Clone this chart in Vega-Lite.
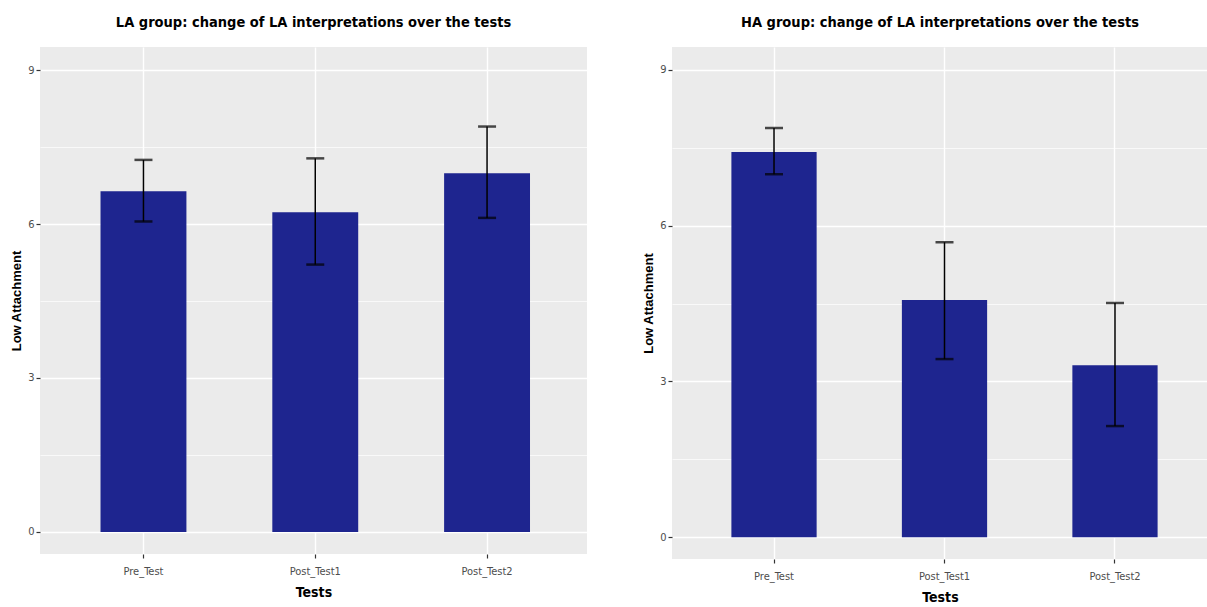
{
  "$schema": "https://vega.github.io/schema/vega-lite/v6.json",
  "padding": {"left": 10, "top": 14, "right": 0, "bottom": 0},
  "background": "white",
  "datasets": {
    "scores": [
      {"group": "LA", "test": "Pre_Test", "mean": 6.64, "lo": 6.05, "hi": 7.25},
      {"group": "LA", "test": "Post_Test1", "mean": 6.23, "lo": 5.21, "hi": 7.28},
      {"group": "LA", "test": "Post_Test2", "mean": 6.99, "lo": 6.12, "hi": 7.9},
      {"group": "HA", "test": "Pre_Test", "mean": 7.42, "lo": 6.99, "hi": 7.88},
      {"group": "HA", "test": "Post_Test1", "mean": 4.57, "lo": 3.43, "hi": 5.68},
      {"group": "HA", "test": "Post_Test2", "mean": 3.31, "lo": 2.14, "hi": 4.51}
    ]
  },
  "config": {
    "view": {"fill": "#ebebeb", "stroke": null},
    "axis": {
      "domain": false,
      "gridColor": "white",
      "tickColor": "#333333",
      "tickSize": 4,
      "tickWidth": 1.2,
      "labelColor": "#4d4d4d",
      "labelFont": "DejaVu Sans Condensed, sans-serif",
      "labelFontSize": 11,
      "titleColor": "black"
    },
    "title": {
      "font": "DejaVu Sans Condensed, sans-serif",
      "fontSize": 14.5,
      "fontWeight": "bold",
      "color": "black",
      "anchor": "middle",
      "offset": 17
    }
  },
  "spacing": 55,
  "hconcat": [
    {
      "width": 547,
      "height": 507,
      "title": "LA group: change of LA interpretations over the tests",
      "data": {"name": "scores"},
      "transform": [{"filter": "datum.group === 'LA'"}],
      "encoding": {
        "x": {
          "field": "test", "type": "nominal", "sort": ["Pre_Test", "Post_Test1", "Post_Test2"],
          "scale": {"paddingInner": 0.5, "paddingOuter": 0.342, "align": 0.515},
          "axis": {"title": "Tests", "labelAngle": 0, "bandPosition": 0.5, "gridWidth": 1.4,
                   "grid": true, "titleFont": "DejaVu Sans Condensed, sans-serif",
                   "titleFontSize": 14, "titleFontWeight": "bold", "labelPadding": 7, "titlePadding": 9}
        }
      },
      "layer": [
        {
          "mark": {"type": "bar", "color": "#1e258f"},
          "encoding": {
            "y": {
              "field": "mean", "type": "quantitative",
              "scale": {"domain": [-0.43, 9.45], "nice": false, "zero": false},
              "axis": {
                "title": "Low Attachment",
                "values": [0, 1.5, 3, 4.5, 6, 7.5, 9],
                "labelExpr": "datum.value % 3 === 0 ? datum.label : ''",
                "tickOpacity": {"condition": {"test": "datum.value % 3 === 0", "value": 1}, "value": 0},
                "gridWidth": {"condition": {"test": "datum.value % 3 === 0", "value": 1.4}, "value": 0.7},
                "titleFont": "Liberation Sans, Arial, sans-serif",
                "titleFontSize": 13, "titleFontWeight": "bold",
                "labelPadding": 2, "titlePadding": 4
              }
            }
          }
        },
        {
          "mark": {"type": "rule", "color": "black", "strokeWidth": 1.5},
          "encoding": {"y": {"field": "lo", "type": "quantitative"}, "y2": {"field": "hi"}}
        },
        {
          "mark": {"type": "tick", "color": "black", "thickness": 2.5, "size": 18},
          "encoding": {"y": {"field": "lo", "type": "quantitative"}}
        },
        {
          "mark": {"type": "tick", "color": "black", "thickness": 2.5, "size": 18},
          "encoding": {"y": {"field": "hi", "type": "quantitative"}}
        }
      ]
    },
    {
      "width": 536,
      "height": 512,
      "title": "HA group: change of LA interpretations over the tests",
      "data": {"name": "scores"},
      "transform": [{"filter": "datum.group === 'HA'"}],
      "encoding": {
        "x": {
          "field": "test", "type": "nominal", "sort": ["Pre_Test", "Post_Test1", "Post_Test2"],
          "scale": {"paddingInner": 0.5, "paddingOuter": 0.322, "align": 0.541},
          "axis": {"title": "Tests", "labelAngle": 0, "bandPosition": 0.5, "gridWidth": 1.4,
                   "grid": true, "titleFont": "DejaVu Sans Condensed, sans-serif",
                   "titleFontSize": 14, "titleFontWeight": "bold", "labelPadding": 7, "titlePadding": 9}
        }
      },
      "layer": [
        {
          "mark": {"type": "bar", "color": "#1e258f"},
          "encoding": {
            "y": {
              "field": "mean", "type": "quantitative",
              "scale": {"domain": [-0.42, 9.44], "nice": false, "zero": false},
              "axis": {
                "title": "Low Attachment",
                "values": [0, 1.5, 3, 4.5, 6, 7.5, 9],
                "labelExpr": "datum.value % 3 === 0 ? datum.label : ''",
                "tickOpacity": {"condition": {"test": "datum.value % 3 === 0", "value": 1}, "value": 0},
                "gridWidth": {"condition": {"test": "datum.value % 3 === 0", "value": 1.4}, "value": 0.7},
                "titleFont": "Liberation Sans, Arial, sans-serif",
                "titleFontSize": 13, "titleFontWeight": "bold",
                "labelPadding": 2, "titlePadding": 4
              }
            }
          }
        },
        {
          "mark": {"type": "rule", "color": "black", "strokeWidth": 1.5},
          "encoding": {"y": {"field": "lo", "type": "quantitative"}, "y2": {"field": "hi"}}
        },
        {
          "mark": {"type": "tick", "color": "black", "thickness": 2.5, "size": 18},
          "encoding": {"y": {"field": "lo", "type": "quantitative"}}
        },
        {
          "mark": {"type": "tick", "color": "black", "thickness": 2.5, "size": 18},
          "encoding": {"y": {"field": "hi", "type": "quantitative"}}
        }
      ]
    }
  ]
}
